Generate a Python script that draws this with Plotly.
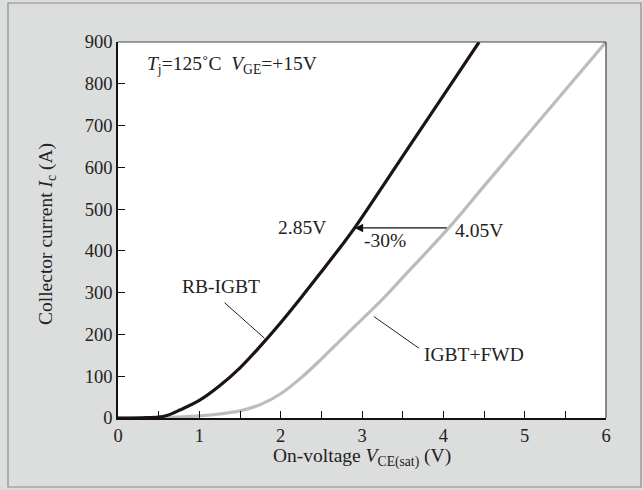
import plotly.graph_objects as go

# RB-IGBT (black curve)
rb_v = [0, 0.3, 0.5, 0.6, 0.76, 1.0, 1.25, 1.5, 1.75, 2.0, 2.25, 2.5, 2.75, 2.91, 3.26, 3.67, 4.08, 4.44]
rb_i = [0, 0.5, 2, 6, 19, 42, 77, 120, 172, 228, 288, 350, 413, 455, 556, 676, 795, 900]

# IGBT+FWD (gray curve)
fwd_v = [0, 0.5, 0.8, 1.0, 1.25, 1.5, 1.75, 2.0, 2.25, 2.5, 2.75, 3.0, 3.25, 3.5, 4.08, 4.5, 5.0, 5.5, 6.0]
fwd_i = [0, 1, 3, 5, 9.6, 17, 32, 58, 96, 141, 189, 236, 284, 336, 458, 555, 670, 785, 900]

x_ticks = [0, 1, 2, 3, 4, 5, 6]
y_ticks = [0, 100, 200, 300, 400, 500, 600, 700, 800, 900]

FONT = "Liberation Serif"
TXT = "#222222"

fig = go.Figure()
fig.add_trace(go.Scatter(x=fwd_v, y=fwd_i, mode="lines",
                         line=dict(color="#bcbcbc", width=3.2, shape="spline", smoothing=1.0),
                         showlegend=False, hoverinfo="skip"))
fig.add_trace(go.Scatter(x=rb_v, y=rb_i, mode="lines",
                         line=dict(color="#1c1414", width=3.2, shape="spline", smoothing=1.0),
                         showlegend=False, hoverinfo="skip"))

W, H = 643, 490
L, R, T, B = 118, 37, 42, 72
pw, ph = W - L - R, H - T - B

def px_x(p):
    return (p - L) / pw

def px_y(p):
    return (H - B - p) / ph

shapes = [
    # outer frame
    dict(type="rect", xref="paper", yref="paper",
         x0=px_x(8), x1=px_x(641), y0=px_y(487), y1=px_y(3),
         line=dict(color="#8a8a8a", width=1.2), layer="below"),
    # top and right plot borders
    dict(type="line", xref="paper", yref="paper", x0=0, x1=1, y0=1, y1=1,
         line=dict(color="#444444", width=1.2)),
    dict(type="line", xref="paper", yref="paper", x0=1, x1=1, y0=0, y1=1,
         line=dict(color="#444444", width=1.2)),
    # leader lines
    dict(type="line", xref="x", yref="y", x0=1.31, y0=276, x1=1.80, y1=191,
         line=dict(color="#222222", width=1)),
    dict(type="line", xref="x", yref="y", x0=3.145, y0=243, x1=3.70, y1=167,
         line=dict(color="#222222", width=1)),
]

ann_font = dict(family=FONT, size=19.5, color=TXT)
annotations = [
    dict(x=0.33, y=845, xref="x", yref="y", xanchor="left", yanchor="middle",
         text="<i>T</i><sub>j</sub>=125˚C  <i>V</i><sub>GE</sub>=+15V",
         showarrow=False, font=ann_font),
    dict(x=2.26, y=457, xref="x", yref="y", text="2.85V", showarrow=False, font=ann_font),
    dict(x=3.28, y=424, xref="x", yref="y", text="-30%", showarrow=False, font=ann_font),
    dict(x=4.44, y=450, xref="x", yref="y", text="4.05V", showarrow=False, font=ann_font),
    dict(x=1.27, y=314, xref="x", yref="y", text="RB-IGBT", showarrow=False, font=ann_font),
    dict(x=4.38, y=151, xref="x", yref="y", text="IGBT+FWD", showarrow=False, font=ann_font),
    dict(x=2.91, y=455, ax=4.06, ay=455, xref="x", yref="y", axref="x", ayref="y",
         text="", showarrow=True, arrowhead=2, arrowsize=1.3, arrowwidth=1.3,
         arrowcolor="#111111", standoff=0),
    # axis titles
    dict(x=0.5, y=px_y(457), xref="paper", yref="paper", xanchor="center", yanchor="middle",
         text="On-voltage <i>V</i><sub>CE(sat)</sub> (V)", showarrow=False, font=ann_font),
    dict(x=px_x(47), y=px_y(234), xref="paper", yref="paper", xanchor="center", yanchor="middle",
         text="Collector current <i>I</i><sub>c</sub> (A)", textangle=-90,
         showarrow=False, font=ann_font),
]

fig.update_layout(
    width=W, height=H,
    margin=dict(l=L, r=R, t=T, b=B, pad=0),
    paper_bgcolor="#dcdedd",
    plot_bgcolor="#ffffff",
    font=dict(family=FONT, size=18.5, color=TXT),
    shapes=shapes,
    annotations=annotations,
)
fig.update_xaxes(range=[0, 6], tickvals=x_ticks, ticktext=[str(v) for v in x_ticks],
                 ticks="inside", ticklen=7, tickwidth=1.3, tickcolor="#111111",
                 minor=dict(dtick=0.5, tick0=0, ticks="inside", ticklen=7, tickwidth=1.3, tickcolor="#111111"),
                 showline=True, linecolor="#111111", linewidth=2.2,
                 showgrid=False, zeroline=False, fixedrange=True,
                 tickfont=dict(family=FONT, size=18.5, color=TXT))
fig.update_yaxes(range=[0, 900], tickvals=y_ticks, ticktext=[str(v) for v in y_ticks],
                 ticks="inside", ticklen=7, tickwidth=1.3, tickcolor="#111111",
                 showline=True, linecolor="#111111", linewidth=1.6,
                 showgrid=False, zeroline=False, fixedrange=True,
                 tickfont=dict(family=FONT, size=18.5, color=TXT))

fig.write_html("out.html", config={"displayModeBar": False},
               post_script="document.body.style.margin='0';document.body.style.overflow='hidden';")
